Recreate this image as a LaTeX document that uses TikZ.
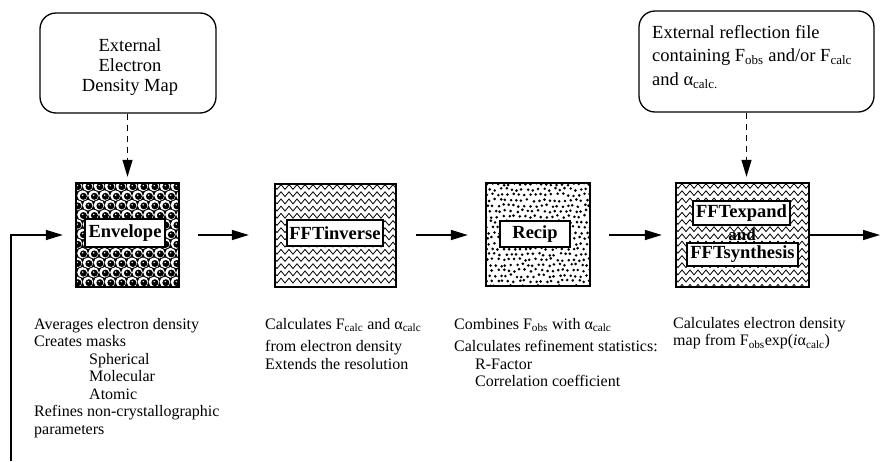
\documentclass[tikz,border=0pt]{standalone}
\usepackage{fontspec}
\setmainfont{Liberation Serif}
\usetikzlibrary{arrows.meta}

\newcommand\ballfill[4]{%
  \fill[black] (#1,#2) rectangle (#3,#4);
  \begin{scope}
    \clip (#1,#2) rectangle (#3,#4);
    \foreach \r in {0,...,11}{
      \foreach \c in {0,...,10}{
        \pgfmathsetmacro\bx{#1+1+\c*11+mod(\r,2)*5.5}
        \pgfmathsetmacro\by{#2+3+\r*9.6}
        \fill[white] (\bx,\by) circle (5.3);
        \fill[black] (\bx+0.9,\by+0.7) circle (3.5);
        \fill[white] (\bx+0.2,\by-0.4) circle (0.8);
      }
    }
  \end{scope}}

\newcommand\wavefill[4]{%
  \begin{scope}
    \clip (#1,#2) rectangle (#3,#4);
    \pgfmathsetmacro\wA{#2+3}
    \pgfmathsetmacro\wB{#2+10.2}
    \foreach \yy in {\wA,\wB,...,#4}{
      \draw[line width=0.8pt] (#1-4,\yy)
        \foreach \k in {0,...,20}{ -- ++(2,-2.4) -- ++(4,4.8) -- ++(2,-2.4)};
    }
  \end{scope}}

\newcommand\speckfill[4]{%
  \begin{scope}
    \clip (#1,#2) rectangle (#3,#4);
    \pgfmathsetseed{7}
    \foreach \r in {0,...,20}{
      \foreach \c in {0,...,20}{
        \pgfmathsetmacro\sx{#1+1+\c*5.4+mod(\r,2)*2.7+rand*1.3}
        \pgfmathsetmacro\sy{#2+1+\r*5.4+rand*1.3}
        \fill[black] (\sx,\sy) circle (1.45);
      }
    }
  \end{scope}}

\begin{document}
\begin{tikzpicture}[x=1pt,y=-1pt,
  arr/.style={line width=1.4pt,-{Triangle[length=17pt,width=10pt]}},
  darr/.style={line width=1.2pt,dash pattern=on 6pt off 5pt,-{Triangle[length=17pt,width=10pt]}},
  extbox/.style={draw,line width=1.3pt,rounded corners=16pt,inner sep=0pt},
  procbox/.style={draw,line width=2.3pt,inner sep=0pt},
  lab/.style={draw,fill=white,line width=1.4pt,inner sep=0pt,font=\fontsize{18.5}{19}\selectfont\bfseries},
  desc/.style={anchor=north west,inner sep=0pt,align=left,font=\fontsize{16}{17.5}\selectfont},
  exttext/.style={inner sep=0pt,font=\fontsize{18.5}{20}\selectfont}]

\useasboundingbox (0,0) rectangle (881,461);

% external sources
\node[extbox,minimum width=176pt,minimum height=100pt] (ext1) at (128,63) {};
\node[exttext,align=center] (ext1txt) at (130,67) {External\\Electron\\Density Map};

\node[extbox,minimum width=235pt,minimum height=101pt] (ext2) at (756.5,61.5) {};
\node[exttext,align=left,anchor=west,font=\fontsize{18.5}{23.5}\selectfont] (ext2txt) at (652,57)
  {External reflection file\\containing F\textsubscript{obs} and/or F\textsubscript{calc}\\and α\textsubscript{calc.}};

% pattern fills
\ballfill{76}{183}{179}{287}
\wavefill{275}{184}{396}{287}
\speckfill{486}{183}{590}{286}
\wavefill{676}{183}{809}{287}

% process boxes
\node[procbox,minimum width=103pt,minimum height=104pt] (env) at (127.5,235) {};
\node[procbox,minimum width=121pt,minimum height=103pt] (inv) at (335.5,235.5) {};
\node[procbox,minimum width=104pt,minimum height=103pt] (rec) at (538,234.5) {};
\node[procbox,minimum width=133pt,minimum height=104pt] (exp) at (742.5,235) {};

% labels
\node[lab,minimum width=80pt,minimum height=28pt] (envlab) at (125,233) {Envelope};
\node[lab,minimum width=96pt,minimum height=26pt] (invlab) at (335,233) {FFTinverse};
\node[lab,minimum width=70pt,minimum height=26pt] (reclab) at (535,234) {Recip};
\node[lab,minimum width=97pt,minimum height=24pt] (explab) at (741.5,213) {FFTexpand};
\node[inner sep=0pt,font=\fontsize{17}{18}\selectfont\bfseries] (andlab) at (742,235) {and};
\node[lab,minimum width=111pt,minimum height=23pt] (synlab) at (742.5,254.5) {FFTsynthesis};

% dashed inputs
\draw[darr,shorten >=5pt] (env.north |- ext1.south) -- (env.north);
\draw[darr,shorten >=5pt] ([xshift=4pt]exp.north |- ext2.south) -- ([xshift=4pt]exp.north);

% flow arrows
\draw[arr,shorten <=18pt,shorten >=25pt] (env.east) -- (inv.west |- env.east);
\draw[arr,shorten <=19pt,shorten >=17pt] (inv.east |- env.east) -- (rec.west |- env.east);
\draw[arr,shorten <=18pt,shorten >=13pt] (rec.east |- env.east) -- (exp.west |- env.east);
\coordinate (out) at (880,235);
\draw[arr] (exp.east) -- (out);
\coordinate (fb) at (11,461);
\draw[arr,shorten >=12pt] (fb) |- (env.west);

% descriptions
\node[desc] (d1) at (34,318) {Averages electron density\\Creates masks\\
  \hspace*{55pt}Spherical\\\hspace*{55pt}Molecular\\\hspace*{55pt}Atomic\\
  Refines non-crystallographic\\parameters};
\node[desc] (d2) at (265,318) {Calculates F\textsubscript{calc} and α\textsubscript{calc}\\[5pt]
  from electron density\\Extends the resolution};
\node[desc] (d3) at (454,318) {Combines F\textsubscript{obs} with α\textsubscript{calc}\\[5pt]
  Calculates refinement statistics:\\\hspace*{21pt}R-Factor\\\hspace*{21pt}Correlation coefficient};
\node[desc] (d4) at (673,317) {Calculates electron density\\
  map from F\textsubscript{obs}exp(\textit{i}α\textsubscript{calc})};
\end{tikzpicture}
\end{document}
